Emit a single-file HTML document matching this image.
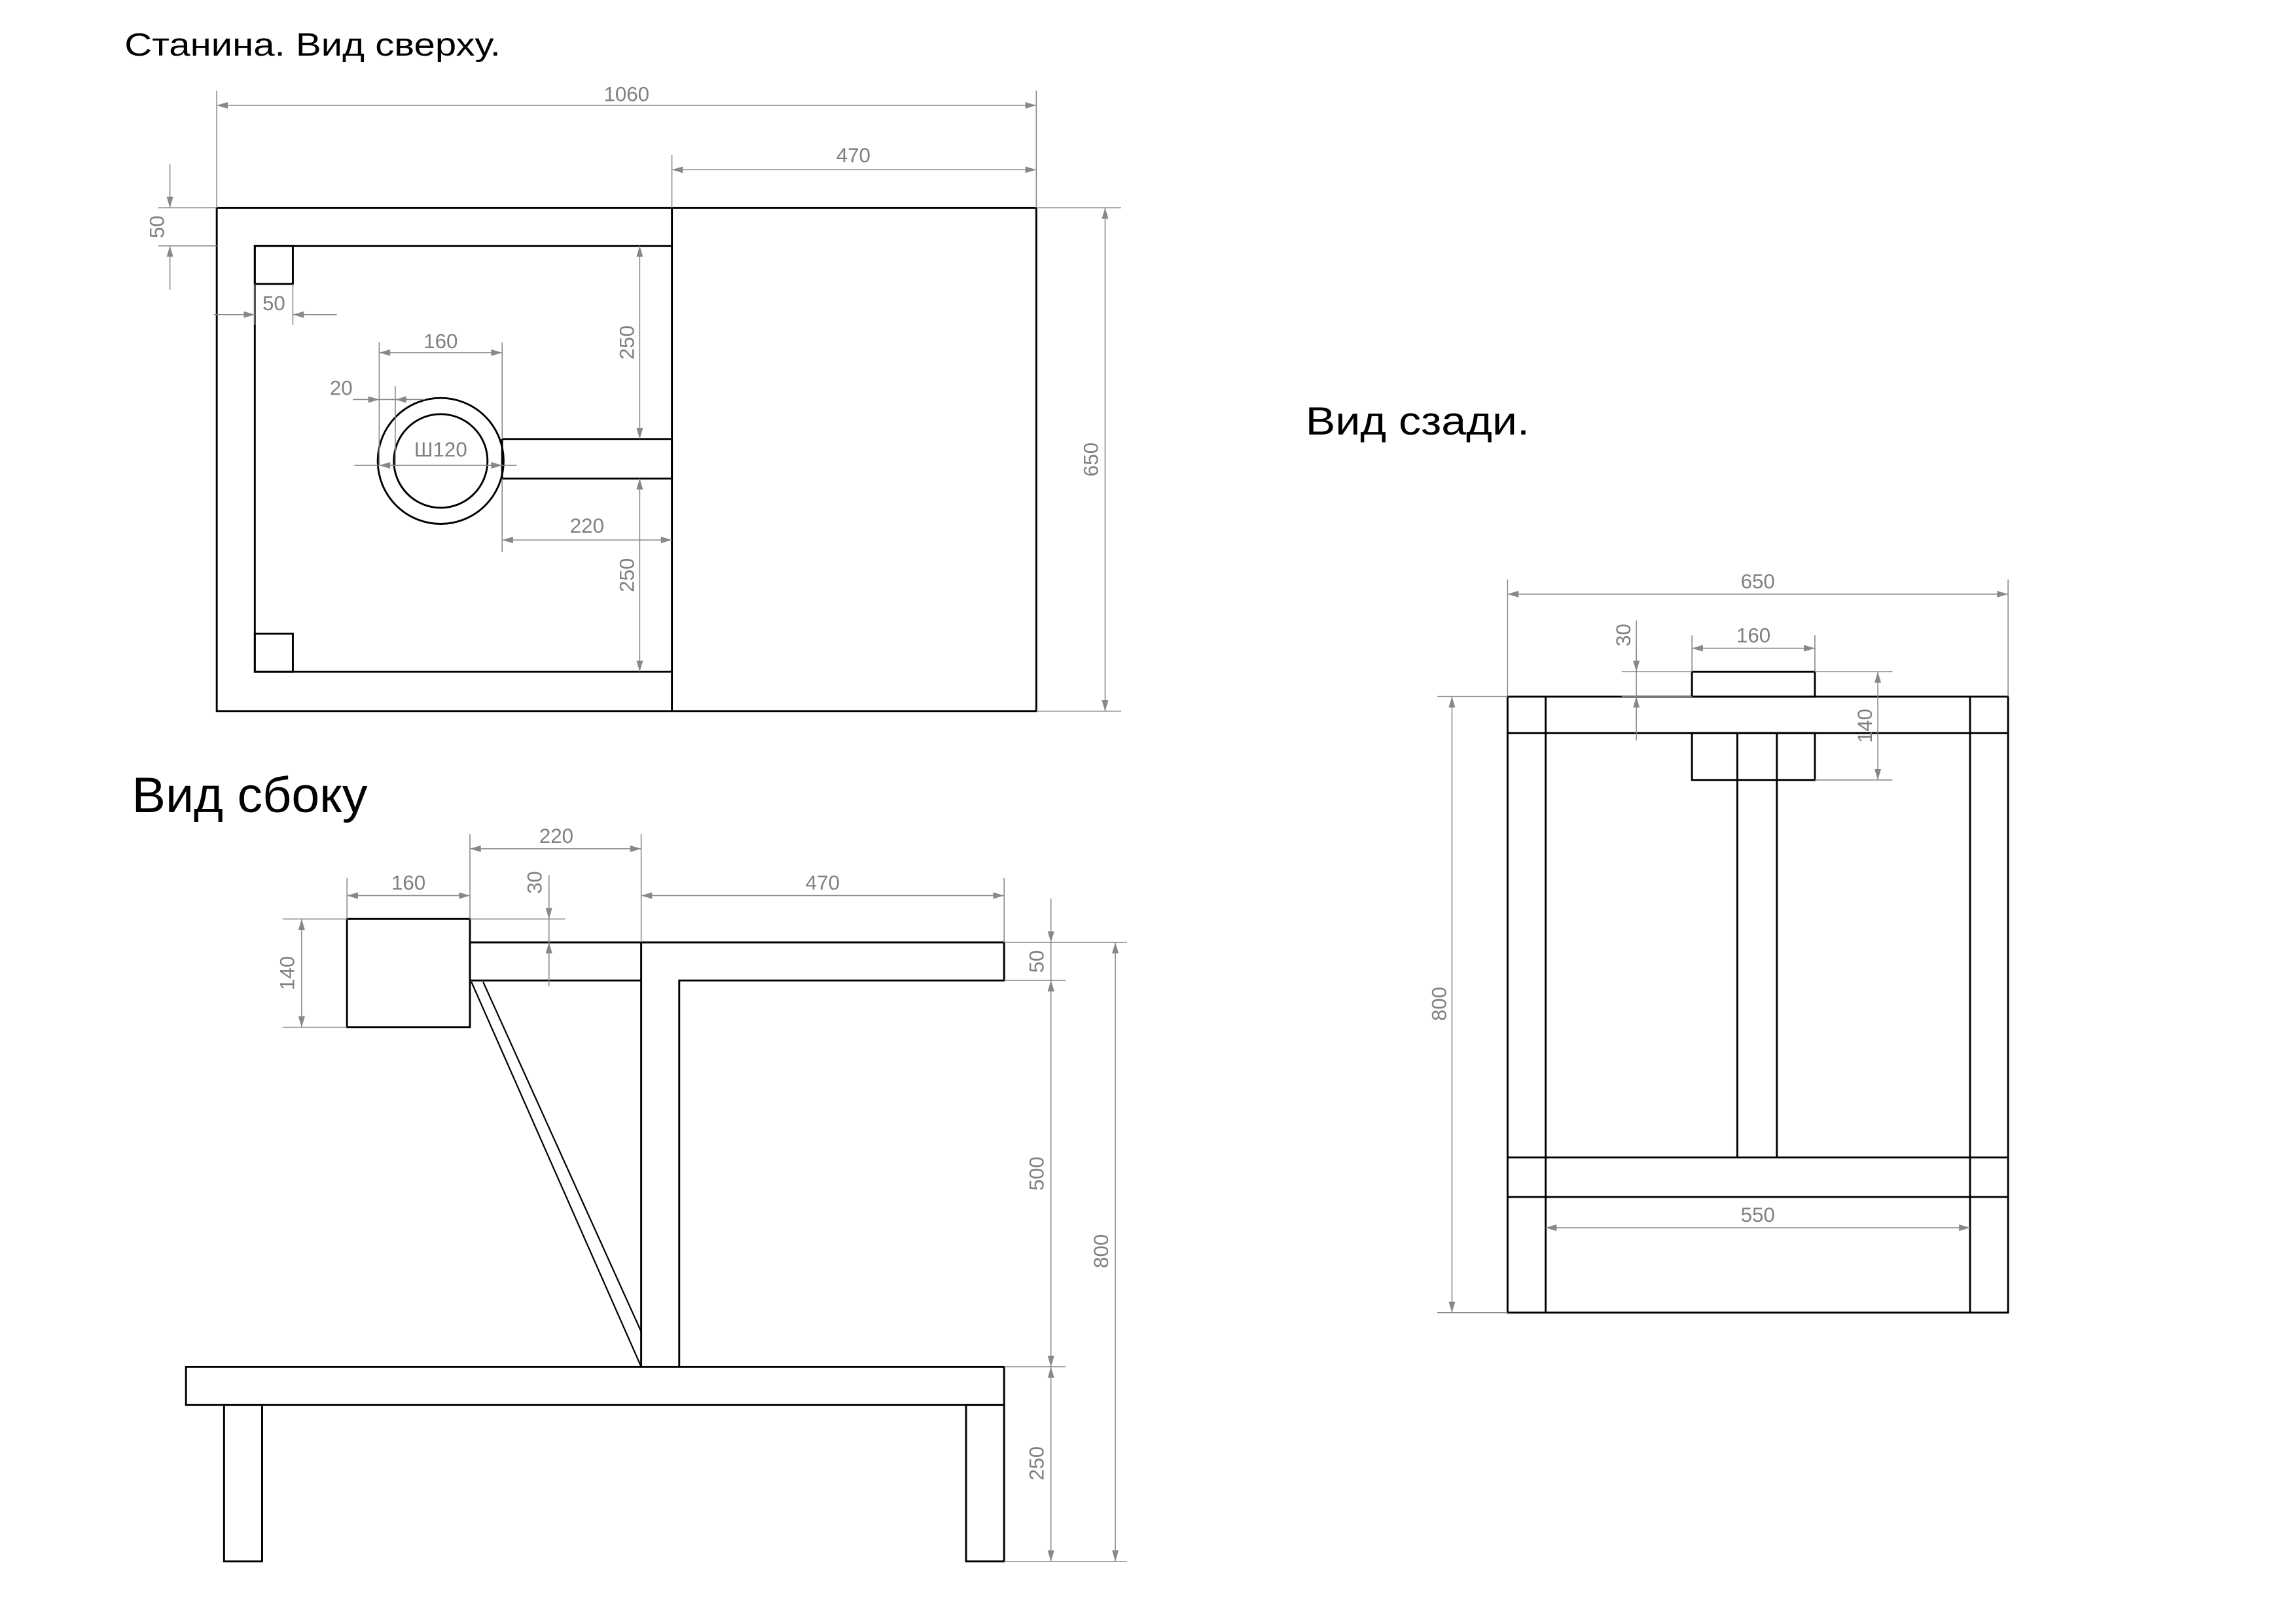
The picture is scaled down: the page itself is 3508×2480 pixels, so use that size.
<!DOCTYPE html>
<html><head><meta charset="utf-8"><style>
html,body{margin:0;padding:0;background:#fff;}
svg{display:block;}
.o{fill:none;stroke:#000;stroke-width:1.3;}
.d{stroke:#888;stroke-width:0.7;fill:none;}
.da{stroke:#888;stroke-width:0.7;fill:none;marker-start:url(#a);marker-end:url(#a);}
.de{stroke:#888;stroke-width:0.7;fill:none;marker-end:url(#a);}
.t{fill:#808080;font-family:"Liberation Sans",sans-serif;font-size:14px;}
.h{fill:#000;font-family:"Liberation Sans",sans-serif;}
</style></head><body>
<svg width="3508" height="2480" viewBox="0 0 1560 1103" xmlns="http://www.w3.org/2000/svg">
<defs><marker id="a" viewBox="0 0 10 6" refX="10" refY="3" markerWidth="14" markerHeight="4.5" markerUnits="userSpaceOnUse" orient="auto-start-reverse"><path d="M0,0L10,3L0,6z" fill="#888"/></marker></defs>
<rect width="1560" height="1103" fill="#fff"/>
<g transform="scale(0.9945)">
<text class="h" x="85" y="38" font-size="22" textLength="257" lengthAdjust="spacingAndGlyphs">Станина. Вид сверху.</text>
<text class="h" x="892" y="297" font-size="27" textLength="153" lengthAdjust="spacingAndGlyphs">Вид сзади.</text>
<text class="h" x="90" y="555" font-size="34" textLength="161" lengthAdjust="spacingAndGlyphs">Вид сбоку</text>

<!-- TOP VIEW -->
<rect class="o" x="148" y="142" width="560" height="344"/>
<line class="o" x1="459" y1="142" x2="459" y2="486"/>
<polyline class="o" points="459,168 174,168 174,459 459,459"/>
<rect class="o" x="174" y="168" width="26" height="26"/>
<rect class="o" x="174" y="433" width="26" height="26"/>
<polyline class="o" points="343,300 459,300 459,327 343,327 343,300"/>
<circle class="o" cx="301" cy="315" r="43"/>
<circle class="o" cx="301" cy="315" r="32"/>
<line class="d" x1="148" y1="142" x2="148" y2="62"/><line class="d" x1="708" y1="142" x2="708" y2="62"/>
<line class="da" x1="148" y1="72" x2="708" y2="72"/><text class="t" x="428" y="69" text-anchor="middle">1060</text>
<line class="d" x1="459" y1="142" x2="459" y2="106"/>
<line class="da" x1="459" y1="116" x2="708" y2="116"/><text class="t" x="583" y="111" text-anchor="middle">470</text>
<line class="d" x1="708" y1="142" x2="766" y2="142"/><line class="d" x1="708" y1="486" x2="766" y2="486"/>
<line class="da" x1="755" y1="142" x2="755" y2="486"/><text class="t" transform="translate(750,314) rotate(-90)" text-anchor="middle">650</text>
<line class="d" x1="108" y1="142" x2="148" y2="142"/><line class="d" x1="108" y1="168" x2="148" y2="168"/>
<line class="de" x1="116" y1="112" x2="116" y2="142"/><line class="de" x1="116" y1="198" x2="116" y2="168"/>
<text class="t" transform="translate(112,155) rotate(-90)" text-anchor="middle">50</text>
<line class="d" x1="174" y1="194" x2="174" y2="222"/><line class="d" x1="200" y1="194" x2="200" y2="222"/>
<line class="de" x1="146" y1="215" x2="174" y2="215"/><line class="de" x1="230" y1="215" x2="200" y2="215"/>
<text class="t" x="187" y="212" text-anchor="middle">50</text>
<line class="d" x1="259" y1="234" x2="259" y2="318"/><line class="d" x1="343" y1="234" x2="343" y2="300"/>
<line class="da" x1="259" y1="241" x2="343" y2="241"/><text class="t" x="301" y="238" text-anchor="middle">160</text>
<line class="d" x1="270" y1="264" x2="270" y2="318"/>
<line class="de" x1="241" y1="273" x2="259" y2="273"/><line class="d" x1="259" y1="273" x2="270" y2="273"/><line class="de" x1="290" y1="273" x2="270" y2="273"/>
<text class="t" x="233" y="270" text-anchor="middle">20</text>
<line class="d" x1="242" y1="318" x2="259" y2="318"/><line class="da" x1="259" y1="318" x2="343" y2="318"/><line class="d" x1="343" y1="318" x2="353" y2="318"/>
<text class="t" x="301" y="312" text-anchor="middle">Ш120</text>
<line class="da" x1="437" y1="168" x2="437" y2="300"/><text class="t" transform="translate(433,234) rotate(-90)" text-anchor="middle">250</text>
<line class="da" x1="437" y1="327" x2="437" y2="459"/><text class="t" transform="translate(433,393) rotate(-90)" text-anchor="middle">250</text>
<line class="d" x1="343" y1="327" x2="343" y2="377"/>
<line class="da" x1="343" y1="369" x2="459" y2="369"/><text class="t" x="401" y="364" text-anchor="middle">220</text>

<!-- SIDE VIEW -->
<rect class="o" x="237" y="628" width="84" height="74"/>
<polyline class="o" points="321,644 686,644 686,670 464,670 464,934"/>
<line class="o" x1="321" y1="670" x2="438" y2="670"/>
<line class="o" x1="438" y1="644" x2="438" y2="934"/>
<line class="o" x1="321" y1="644" x2="321" y2="670"/>
<line class="o" x1="322" y1="671" x2="438" y2="934" style="stroke-width:1"/>
<line class="o" x1="330" y1="671" x2="438" y2="910" style="stroke-width:1"/>
<rect class="o" x="127" y="934" width="559" height="26"/>
<rect class="o" x="153" y="960" width="26" height="107"/>
<rect class="o" x="660" y="960" width="26" height="107"/>
<line class="d" x1="237" y1="600" x2="237" y2="628"/><line class="d" x1="321" y1="570" x2="321" y2="628"/>
<line class="da" x1="237" y1="612" x2="321" y2="612"/><text class="t" x="279" y="608" text-anchor="middle">160</text>
<line class="d" x1="438" y1="570" x2="438" y2="644"/>
<line class="da" x1="321" y1="580" x2="438" y2="580"/><text class="t" x="380" y="576" text-anchor="middle">220</text>
<line class="d" x1="686" y1="600" x2="686" y2="644"/>
<line class="da" x1="438" y1="612" x2="686" y2="612"/><text class="t" x="562" y="608" text-anchor="middle">470</text>
<line class="d" x1="321" y1="628" x2="386" y2="628"/>
<line class="d" x1="375" y1="598" x2="375" y2="674"/>
<line class="de" x1="375" y1="608" x2="375" y2="628"/><line class="de" x1="375" y1="664" x2="375" y2="644"/>
<text class="t" transform="translate(370,603) rotate(-90)" text-anchor="middle">30</text>
<line class="d" x1="193" y1="628" x2="237" y2="628"/><line class="d" x1="193" y1="702" x2="237" y2="702"/>
<line class="da" x1="206" y1="628" x2="206" y2="702"/><text class="t" transform="translate(201,665) rotate(-90)" text-anchor="middle">140</text>
<line class="d" x1="686" y1="644" x2="770" y2="644"/><line class="d" x1="686" y1="670" x2="728" y2="670"/>
<line class="d" x1="686" y1="934" x2="728" y2="934"/><line class="d" x1="686" y1="1067" x2="770" y2="1067"/>
<line class="de" x1="718" y1="614" x2="718" y2="644"/><line class="de" x1="718" y1="700" x2="718" y2="670"/>
<line class="d" x1="718" y1="644" x2="718" y2="670"/>
<text class="t" transform="translate(713,657) rotate(-90)" text-anchor="middle">50</text>
<line class="da" x1="718" y1="670" x2="718" y2="934"/><text class="t" transform="translate(713,802) rotate(-90)" text-anchor="middle">500</text>
<line class="da" x1="718" y1="934" x2="718" y2="1067"/><text class="t" transform="translate(713,1000) rotate(-90)" text-anchor="middle">250</text>
<line class="da" x1="762" y1="644" x2="762" y2="1067"/><text class="t" transform="translate(757,855) rotate(-90)" text-anchor="middle">800</text>

<!-- BACK VIEW -->
<rect class="o" x="1030" y="476" width="342" height="421"/>
<line class="o" x1="1030" y1="501" x2="1372" y2="501"/>
<line class="o" x1="1056" y1="476" x2="1056" y2="897"/>
<line class="o" x1="1346" y1="476" x2="1346" y2="897"/>
<line class="o" x1="1030" y1="791" x2="1372" y2="791"/>
<line class="o" x1="1030" y1="818" x2="1372" y2="818"/>
<rect class="o" x="1156" y="459" width="84" height="17"/>
<rect class="o" x="1156" y="501" width="84" height="32"/>
<line class="o" x1="1187" y1="501" x2="1187" y2="791"/>
<line class="o" x1="1214" y1="501" x2="1214" y2="791"/>
<line class="d" x1="1030" y1="396" x2="1030" y2="476"/><line class="d" x1="1372" y1="396" x2="1372" y2="476"/>
<line class="da" x1="1030" y1="406" x2="1372" y2="406"/><text class="t" x="1201" y="402" text-anchor="middle">650</text>
<line class="d" x1="1156" y1="434" x2="1156" y2="459"/><line class="d" x1="1240" y1="434" x2="1240" y2="459"/>
<line class="da" x1="1156" y1="443" x2="1240" y2="443"/><text class="t" x="1198" y="439" text-anchor="middle">160</text>
<line class="d" x1="1108" y1="459" x2="1156" y2="459"/><line class="d" x1="1108" y1="476" x2="1156" y2="476"/>
<line class="d" x1="1118" y1="424" x2="1118" y2="506"/>
<line class="de" x1="1118" y1="439" x2="1118" y2="459"/><line class="de" x1="1118" y1="496" x2="1118" y2="476"/>
<text class="t" transform="translate(1114,434) rotate(-90)" text-anchor="middle">30</text>
<line class="d" x1="1240" y1="459" x2="1293" y2="459"/><line class="d" x1="1240" y1="533" x2="1293" y2="533"/>
<line class="da" x1="1283" y1="459" x2="1283" y2="533"/><text class="t" transform="translate(1279,496) rotate(-90)" text-anchor="middle">140</text>
<line class="d" x1="982" y1="476" x2="1030" y2="476"/><line class="d" x1="982" y1="897" x2="1030" y2="897"/>
<line class="da" x1="992" y1="476" x2="992" y2="897"/><text class="t" transform="translate(988,686) rotate(-90)" text-anchor="middle">800</text>
<line class="da" x1="1056" y1="839" x2="1346" y2="839"/><text class="t" x="1201" y="835" text-anchor="middle">550</text>
</g>
</svg>
</body></html>
